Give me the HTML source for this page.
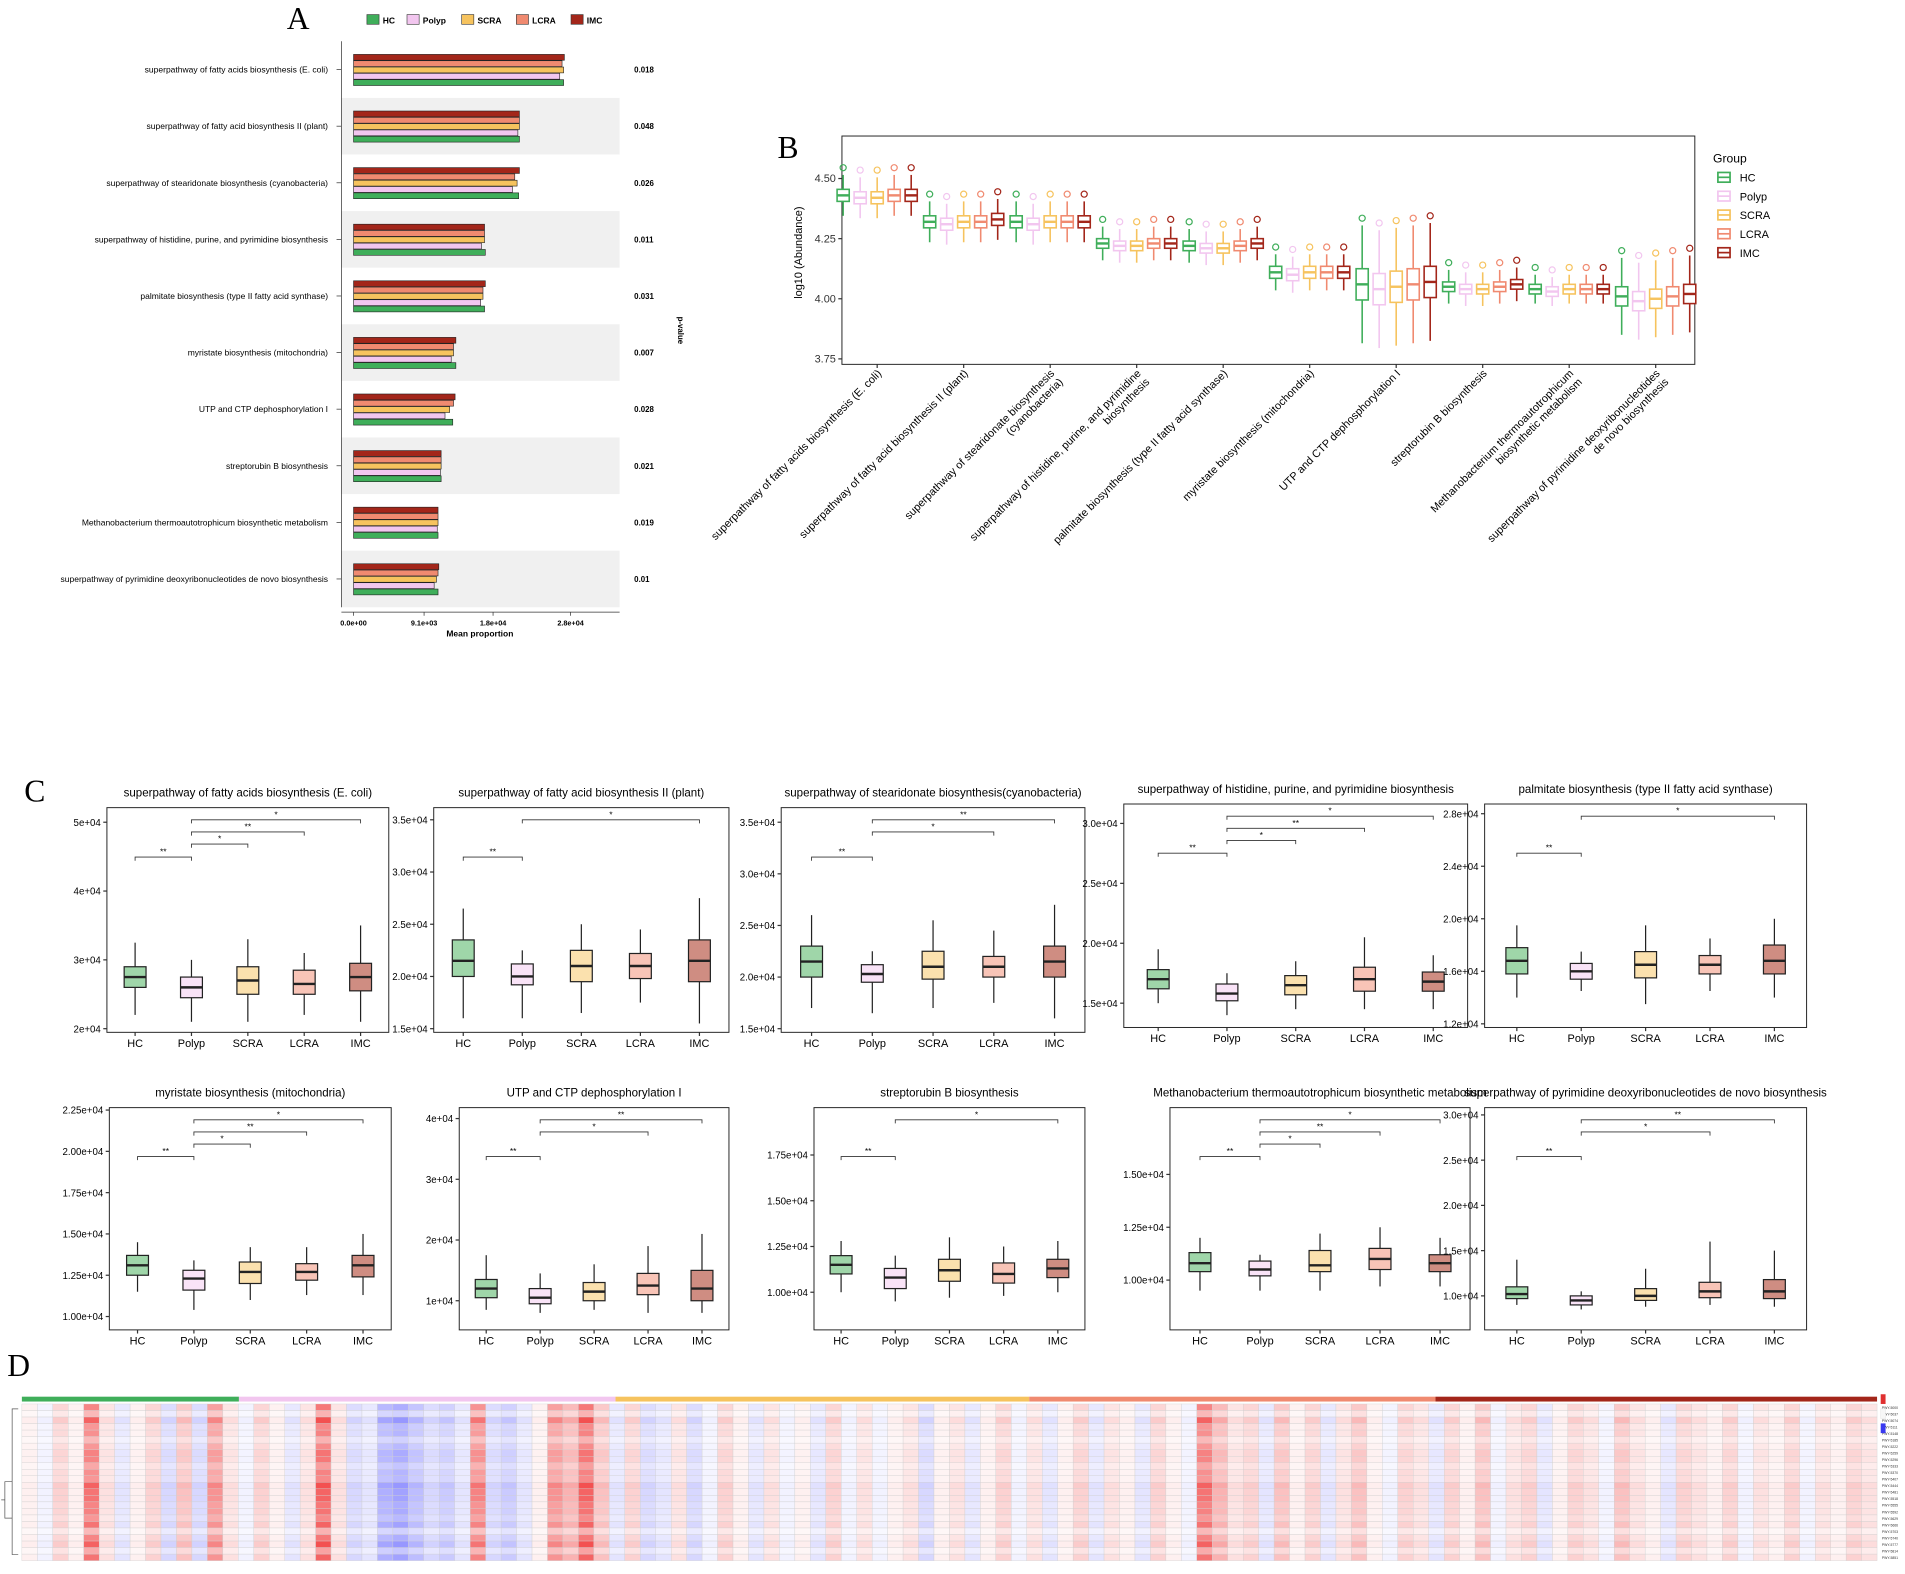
<!DOCTYPE html>
<html><head><meta charset="utf-8"><style>
html,body{margin:0;padding:0;background:#fff}
svg{display:block}
text{font-family:"Liberation Sans",Arial,sans-serif}
</style></head><body>
<svg id="fig" xmlns="http://www.w3.org/2000/svg" width="1905" height="1574" viewBox="0 0 1568 1296" preserveAspectRatio="none">
<rect width="1568" height="1296" fill="#fff"/>
<text x="236" y="24" font-size="26" style="font-family:'Liberation Serif',serif">A</text>
<text x="640" y="130" font-size="26" style="font-family:'Liberation Serif',serif">B</text>
<text x="20" y="660" font-size="26" style="font-family:'Liberation Serif',serif">C</text>
<text x="6" y="1133" font-size="26" style="font-family:'Liberation Serif',serif">D</text>
<g id="gA"></g>
<g id="gB"></g>
<g id="gC"></g>
<g id="gD"></g>
</svg>
<script>
const groups=['HC','Polyp','SCRA','LCRA','IMC'];
const colors=['#3fae5a','#f2c6ef','#f6c35e','#f08a70','#a3261a'];
const fills=['#9fd6a9','#f9e3f7','#fbe1ae','#f8c4b7','#cf8d82'];
const pathways=['superpathway of fatty acids biosynthesis (E. coli)','superpathway of fatty acid biosynthesis II (plant)','superpathway of stearidonate biosynthesis (cyanobacteria)','superpathway of histidine, purine, and pyrimidine biosynthesis','palmitate biosynthesis (type II fatty acid synthase)','myristate biosynthesis (mitochondria)','UTP and CTP dephosphorylation I','streptorubin B biosynthesis','Methanobacterium thermoautotrophicum biosynthetic metabolism','superpathway of pyrimidine deoxyribonucleotides de novo biosynthesis'];
const pvals=['0.018','0.048','0.026','0.011','0.031','0.007','0.028','0.021','0.019','0.01'];
const aHC=[27.1,21.4,21.3,17.0,16.9,13.2,12.8,11.3,10.9,10.9];
const aPolyp=[26.6,21.2,20.5,16.5,16.4,12.6,11.8,11.2,10.8,10.4];
const aSCRA=[27.1,21.4,21.1,16.9,16.7,12.9,12.4,11.3,10.9,10.7];
const aLCRA=[26.9,21.4,20.8,16.9,16.7,12.9,12.9,11.3,10.9,10.9];
const aIMC=[27.2,21.4,21.4,16.9,17.0,13.2,13.1,11.3,10.9,11.0];
const aTicks=[0,9.1,18,28];const aTickLbl=['0.0e+00','9.1e+03','1.8e+04','2.8e+04'];
const bMed=[[4.43,4.42,4.42,4.43,4.43],[4.32,4.31,4.32,4.32,4.33],[4.32,4.31,4.32,4.32,4.32],[4.23,4.22,4.22,4.23,4.23],[4.22,4.21,4.21,4.22,4.23],[4.11,4.10,4.11,4.11,4.11],[4.06,4.04,4.05,4.06,4.07],[4.05,4.04,4.04,4.05,4.06],[4.04,4.03,4.04,4.04,4.04],[4.01,3.99,4.00,4.01,4.02]];
const bIQR=[0.05,0.05,0.05,0.04,0.04,0.05,0.13,0.04,0.04,0.08];
const bWhisk=[0.06,0.06,0.06,0.05,0.05,0.05,0.18,0.05,0.04,0.12];
const bTicks=[3.75,4.00,4.25,4.50];
const cTitles=['superpathway of fatty acids biosynthesis (E. coli)','superpathway of fatty acid biosynthesis II (plant)','superpathway of stearidonate biosynthesis(cyanobacteria)','superpathway of histidine, purine, and pyrimidine biosynthesis','palmitate biosynthesis (type II fatty acid synthase)','myristate biosynthesis (mitochondria)','UTP and CTP dephosphorylation I','streptorubin B biosynthesis','Methanobacterium thermoautotrophicum biosynthetic metabolism','superpathway of pyrimidine deoxyribonucleotides de novo biosynthesis'];
const cStats=[
[[2.2,2.6,2.75,2.9,3.25],[2.1,2.45,2.6,2.75,3.0],[2.1,2.5,2.7,2.9,3.3],[2.2,2.5,2.65,2.85,3.1],[2.1,2.55,2.75,2.95,3.5]],
[[1.6,2.0,2.15,2.35,2.65],[1.6,1.92,2.0,2.12,2.25],[1.65,1.95,2.1,2.25,2.5],[1.75,1.98,2.1,2.22,2.45],[1.55,1.95,2.15,2.35,2.75]],
[[1.7,2.0,2.15,2.3,2.6],[1.65,1.95,2.03,2.12,2.25],[1.7,1.98,2.1,2.25,2.55],[1.75,2.0,2.1,2.2,2.45],[1.6,2.0,2.15,2.3,2.7]],
[[1.5,1.62,1.7,1.78,1.95],[1.4,1.52,1.58,1.66,1.75],[1.45,1.57,1.65,1.73,1.85],[1.45,1.6,1.7,1.8,2.05],[1.45,1.6,1.68,1.76,1.9]],
[[1.4,1.58,1.68,1.78,1.95],[1.45,1.54,1.6,1.66,1.75],[1.35,1.55,1.65,1.75,1.95],[1.45,1.58,1.65,1.72,1.85],[1.4,1.58,1.68,1.8,2.0]],
[[1.15,1.25,1.31,1.37,1.45],[1.04,1.16,1.23,1.28,1.34],[1.1,1.2,1.27,1.33,1.42],[1.13,1.22,1.27,1.32,1.42],[1.13,1.24,1.31,1.37,1.5]],
[[0.85,1.05,1.2,1.35,1.75],[0.8,0.95,1.05,1.2,1.45],[0.85,1.0,1.15,1.3,1.6],[0.8,1.1,1.25,1.45,1.9],[0.8,1.0,1.2,1.5,2.1]],
[[1.0,1.1,1.15,1.2,1.28],[0.95,1.02,1.08,1.13,1.2],[0.97,1.06,1.12,1.18,1.3],[0.98,1.05,1.1,1.16,1.25],[1.0,1.08,1.13,1.18,1.28]],
[[0.95,1.04,1.08,1.13,1.2],[0.95,1.02,1.05,1.09,1.12],[0.95,1.04,1.07,1.14,1.22],[0.97,1.05,1.1,1.15,1.25],[0.97,1.04,1.08,1.12,1.2]],
[[0.9,0.97,1.02,1.1,1.4],[0.85,0.9,0.95,1.0,1.05],[0.88,0.95,1.0,1.08,1.3],[0.9,0.98,1.05,1.15,1.6],[0.88,0.97,1.05,1.18,1.5]]];
const cTicks=[[2,3,4,5],[1.5,2,2.5,3,3.5],[1.5,2,2.5,3,3.5],[1.5,2,2.5,3],[1.2,1.6,2.0,2.4,2.8],[1.0,1.25,1.5,1.75,2.0,2.25],[1,2,3,4],[1.0,1.25,1.5,1.75],[1.0,1.25,1.5],[1.0,1.5,2.0,2.5,3.0]];
const cTickLbl=[['2e+04','3e+04','4e+04','5e+04'],['1.5e+04','2.0e+04','2.5e+04','3.0e+04','3.5e+04'],['1.5e+04','2.0e+04','2.5e+04','3.0e+04','3.5e+04'],['1.5e+04','2.0e+04','2.5e+04','3.0e+04'],['1.2e+04','1.6e+04','2.0e+04','2.4e+04','2.8e+04'],['1.00e+04','1.25e+04','1.50e+04','1.75e+04','2.00e+04','2.25e+04'],['1e+04','2e+04','3e+04','4e+04'],['1.00e+04','1.25e+04','1.50e+04','1.75e+04'],['1.00e+04','1.25e+04','1.50e+04'],['1.0e+04','1.5e+04','2.0e+04','2.5e+04','3.0e+04']];
const hCols=[0.1,-0.1,0.3,0.1,0.9,0.2,-0.2,0.1,0.3,-0.3,0.4,-0.3,0.7,0.2,-0.1,0.3,0.1,-0.2,0.2,1.0,0.2,-0.3,-0.2,-0.6,-0.7,-0.5,-0.3,-0.4,-0.2,0.8,-0.3,-0.4,-0.2,0.1,0.7,0.5,1.0,0.4,-0.2,0.3,-0.3,-0.2,0.2,-0.3,-0.1,0.3,0.1,-0.2,0.2,-0.1,0.1,-0.2,0.3,-0.1,0.2,-0.1,0.1,0.2,-0.3,0.1,0.2,-0.2,0.1,0.3,-0.1,0.2,-0.2,0.1,0.3,-0.2,0.2,0.1,-0.2,0.3,0.1,-0.1,0.9,0.5,0.2,0.3,-0.2,0.4,0.1,0.3,-0.2,0.2,0.4,0.1,-0.1,0.3,0.2,-0.2,0.3,0.1,0.4,-0.1,0.2,0.3,-0.2,0.1,0.3,0.2,-0.1,0.4,0.2,0.1,-0.2,0.3,0.2,0.1,0.3,-0.1,0.2,0.1,0.3,-0.1,0.2,0.1,0.3,0.2];
const hRows=[0.7,0.5,0.9,0.6,0.8,0.4,0.6,0.9,0.7,0.5,0.8,0.6,0.9,1.0,0.8,0.7,0.9,0.6,0.8,0.5,0.7,0.9,0.6,0.8];
const hBands=[[0,0.117],[0.117,0.32],[0.32,0.543],[0.543,0.762],[0.762,1]];

const NS='http://www.w3.org/2000/svg';
function el(parent,tag,attrs,txt){const e=document.createElementNS(NS,tag);for(const k in attrs)e.setAttribute(k,attrs[k]);if(txt!==undefined)e.textContent=txt;parent.appendChild(e);return e;}

// Panel A
const gA=document.getElementById('gA');
const ax0=291,aScale=6.38,rowH=46.6,rowTop=34;
const xA=v=>ax0+v*aScale;
const aSeries=[aIMC,aLCRA,aSCRA,aPolyp,aHC];const aColIdx=[4,3,2,1,0];
groups.forEach((g,i)=>{const lx=[302,335,380,425,470][i];
 const r=el(gA,'rect',{x:lx,y:12,width:10,height:8,fill:colors[i],stroke:'#333','stroke-width':0.5});
 
 
 const t=el(gA,'text',{x:lx+13,y:19.5,'font-size':7,'font-weight':'bold'},g);
 
 });
pathways.forEach((p,r)=>{const y0=rowTop+r*rowH;
 if(r%2==1){const bg=el(gA,'rect',{x:281,y:y0,width:229,height:rowH,fill:'#f0f0f0'});
  
  }
 const cy=y0+rowH/2;
 const t=el(gA,'text',{x:270,y:cy+2.5,'font-size':7,'text-anchor':'end'},p);
 
 
 const pv=el(gA,'text',{x:522,y:cy+2.5,'font-size':6.5,'font-weight':'bold'},pvals[r]);
 
 
 el(gA,'line',{x1:277,x2:281,y1:cy,y2:cy,stroke:'#333','stroke-width':0.6});
 aSeries.forEach((s,k)=>{const by=cy-12.5+k*5.2;
  const b=el(gA,'rect',{x:ax0,y:by,width:xA(s[r])-ax0,height:4.8,fill:colors[aColIdx[k]],stroke:'#222','stroke-width':0.5});
  
  });
});
el(gA,'line',{x1:281,x2:281,y1:rowTop,y2:rowTop+10*rowH,stroke:'#333','stroke-width':0.6});
el(gA,'line',{x1:281,x2:510,y1:rowTop+10*rowH+4,y2:rowTop+10*rowH+4,stroke:'#333','stroke-width':0.6});
aTicks.forEach((v,i)=>{const x=xA(v);const y=rowTop+10*rowH+4;
 el(gA,'line',{x1:x,x2:x,y1:y,y2:y+3,stroke:'#333','stroke-width':0.6});
 const t=el(gA,'text',{x:x,y:y+11,'font-size':6,'text-anchor':'middle','font-weight':'bold'},aTickLbl[i]);
 
 });
{const t=el(gA,'text',{x:395,y:524,'font-size':7,'text-anchor':'middle','font-weight':'bold'},'Mean proportion');
 
 
 const t2=el(gA,'text',{x:0,y:0,'font-size':6.5,'text-anchor':'middle','font-weight':'bold',transform:'translate(558,272) rotate(90)'},'p-value');
 
 }

// Panel B
const gB=document.getElementById('gB');
const bx0=693,bx1=1395,by0=112,by1=300;
const yB=v=>246-(v-4.0)*198;
el(gB,'rect',{x:bx0,y:by0,width:bx1-bx0,height:by1-by0,fill:'none',stroke:'#222','stroke-width':0.8});
bTicks.forEach(v=>{const y=yB(v);el(gB,'line',{x1:bx0-3,x2:bx0,y1:y,y2:y,stroke:'#333'});
 const t=el(gB,'text',{x:bx0-5,y:y+3,'font-size':9,'text-anchor':'end',fill:'#333'},v.toFixed(2));
 
 });
{const t=el(gB,'text',{x:0,y:0,'font-size':9,'text-anchor':'middle',transform:'translate(660,208) rotate(-90)'},'log10 (Abundance)');
 
 }
const bLabels=[['superpathway of fatty acids biosynthesis (E. coli)'],['superpathway of fatty acid biosynthesis II (plant)'],['superpathway of stearidonate biosynthesis','(cyanobacteria)'],['superpathway of histidine, purine, and pyrimidine','biosynthesis'],['palmitate biosynthesis (type II fatty acid synthase)'],['myristate biosynthesis (mitochondria)'],['UTP and CTP dephosphorylation I'],['streptorubin B biosynthesis'],['Methanobacterium thermoautotrophicum','biosynthetic metabolism'],['superpathway of pyrimidine deoxyribonucleotides','de novo biosynthesis']];
const bStep=71.2,bFirst=722;
bMed.forEach((meds,gi)=>{const cx=bFirst+gi*bStep;
 el(gB,'line',{x1:cx,x2:cx,y1:by1,y2:by1+3,stroke:'#333'});
 const lines=bLabels[gi];
 const t=el(gB,'text',{x:0,y:0,'font-size':9,'text-anchor':'end',transform:`translate(${cx+4},${by1+8}) rotate(-45)`});
 
 
 lines.forEach((ln,li)=>{el(t,'tspan',{x:0,dy:li?10:0},ln);});
 meds.forEach((m,k)=>{const x=cx-28+k*14;const q=bIQR[gi]/2,w=bWhisk[gi];const c=colors[k];
  const g=el(gB,'g',{});
  
  
  el(g,'line',{x1:x,x2:x,y1:yB(m+q+w),y2:yB(m-q-w),stroke:c,'stroke-width':1.3});
  el(g,'rect',{x:x-5,y:yB(m+q),width:10,height:yB(m-q)-yB(m+q),fill:'#fff',stroke:c,'stroke-width':1.3});
  el(g,'line',{x1:x-5,x2:x+5,y1:yB(m),y2:yB(m),stroke:c,'stroke-width':2});
  el(g,'circle',{cx:x,cy:yB(m+q+w+0.03),r:2.5,fill:'none',stroke:c,'stroke-width':1});
 });
});
{const t=el(gB,'text',{x:1410,y:134,'font-size':10},'Group');
 
 }
groups.forEach((g,i)=>{const y=146+i*15.5;const c=colors[i];
 const s=el(gB,'g',{});
 
 
 el(s,'rect',{x:1414,y:y-4,width:10,height:8,fill:'#fff',stroke:c,'stroke-width':1.4});
 el(s,'line',{x1:1414,x2:1424,y1:y,y2:y,stroke:c,'stroke-width':1.4});
 el(s,'text',{x:1432,y:y+3.5,'font-size':9},g);});

// Panel C
const gC=document.getElementById('gC');
const cPanels=[[88,320,665,850],[357,600,665,850],[643,893,665,850],[925,1208,662,846],[1222,1487,662,846],[90,322,912,1095],[378,600,912,1095],[670,893,912,1095],[963,1210,912,1095],[1222,1487,912,1095]];
const cAxes=[[2,847,5,677],[1.5,847,3.5,675],[1.5,847,3.5,677],[1.5,826,3.0,678],[1.2,843,2.8,670],[1.0,1084,2.25,914],[1,1071,4,921],[1.0,1064,1.75,951],[1.0,1054,1.5,967],[1.0,1067,3.0,918]];
const cBrackets=[[0,2,3,4],[0,4],[0,3,4],[0,2,3,4],[0,4],[0,2,3,4],[0,3,4],[0,4],[0,2,3,4],[0,3,4]];
cStats.forEach((st,pi)=>{const [x0,x1,y0,y1]=cPanels[pi];const [v0,p0,v1,p1]=cAxes[pi];
 const yC=v=>p0+(v-v0)*(p1-p0)/(v1-v0);const xC=k=>x0+(x1-x0)*(0.1+0.2*k);
 const pg=el(gC,'g',{});
 
 
 el(pg,'rect',{x:x0,y:y0,width:x1-x0,height:y1-y0,fill:'none',stroke:'#222','stroke-width':0.8});
 const tt=el(pg,'text',{x:(x0+x1)/2,y:y0-9,'font-size':9.5,'text-anchor':'middle'},cTitles[pi]);
 
 
 cTicks[pi].forEach((v,i)=>{const y=yC(v);el(pg,'line',{x1:x0-3,x2:x0,y1:y,y2:y,stroke:'#333'});
  const t=el(pg,'text',{x:x0-5,y:y+3,'font-size':8,'text-anchor':'end'},cTickLbl[pi][i]);
  
  });
 groups.forEach((g,k)=>{const x=xC(k);el(pg,'line',{x1:x,x2:x,y1:y1,y2:y1+3,stroke:'#333'});
  const t=el(pg,'text',{x:x,y:y1+12,'font-size':9,'text-anchor':'middle'},g);
  
  
  const s=st[k];const bg=el(pg,'g',{});
  
  
  el(bg,'line',{x1:x,x2:x,y1:yC(s[0]),y2:yC(s[4]),stroke:'#222','stroke-width':1});
  el(bg,'rect',{x:x-9,y:yC(s[3]),width:18,height:yC(s[1])-yC(s[3]),fill:fills[k],stroke:'#222','stroke-width':1});
  el(bg,'line',{x1:x-9,x2:x+9,y1:yC(s[2]),y2:yC(s[2]),stroke:'#222','stroke-width':2});
 });
 const br=cBrackets[pi];const topY=y0+10;
 br.forEach((k,bi)=>{const xa=xC(k===0?0:1),xb=xC(k===0?1:k);
  const yl=k===0?y0+(y1-y0)*0.22:topY+(br.length-1-bi)*10;
  const l=el(pg,'path',{d:`M${xa},${yl+3}V${yl}H${xb}V${yl+3}`,fill:'none',stroke:'#333','stroke-width':0.7});
  
  
  el(pg,'text',{x:(xa+xb)/2,y:yl-2,'font-size':7,'text-anchor':'middle'},bi%2?'*':'**');});
});

// Panel D
const gD=document.getElementById('gD');
const hx0=18,hx1=1545,hy0=1156,hy1=1285;
hBands.forEach((b,i)=>{const r=el(gD,'rect',{x:hx0+b[0]*(hx1-hx0),y:1150,width:(b[1]-b[0])*(hx1-hx0),height:4,fill:colors[i]});
 
 });
const cw=(hx1-hx0)/hCols.length,rh=(hy1-hy0)/hRows.length;
function heatColor(v){v=Math.max(-1,Math.min(1,v));if(v>=0){const a=1-v*0.9;return `rgb(${Math.round(240+15*a)},${Math.round(40+215*a)},${Math.round(40+215*a)})`;}const a=1+v*0.85;return `rgb(${Math.round(60+195*a)},${Math.round(60+195*a)},255)`;}
hCols.forEach((cv,ci)=>{hRows.forEach((rv,ri)=>{const v=cv*rv*(ri%3==1?0.8:1);
 const c=el(gD,'rect',{x:hx0+ci*cw,y:hy0+ri*rh,width:cw,height:rh,fill:heatColor(v),stroke:'#cfcfcf','stroke-width':0.3});
 
 });});
el(gD,'path',{d:'M15,1160H10V1280H15M10,1220H4V1250H10M4,1235H1',fill:'none',stroke:'#555','stroke-width':0.6});
for(let i=0;i<24;i++){const t=el(gD,'text',{x:1549,y:hy0+i*rh+4,'font-size':2.8,fill:'#333'},'PWY-'+(5000+i*37));
 
 }
{const lg=el(gD,'g',{});
 
 
 el(lg,'rect',{x:1548,y:1148,width:4,height:8,fill:'#e03030'});el(lg,'rect',{x:1548,y:1160,width:4,height:8,fill:'#f7f7f7',stroke:'#ddd','stroke-width':0.3});el(lg,'rect',{x:1548,y:1172,width:4,height:8,fill:'#3a3af0'});}
</script>
</body></html>
